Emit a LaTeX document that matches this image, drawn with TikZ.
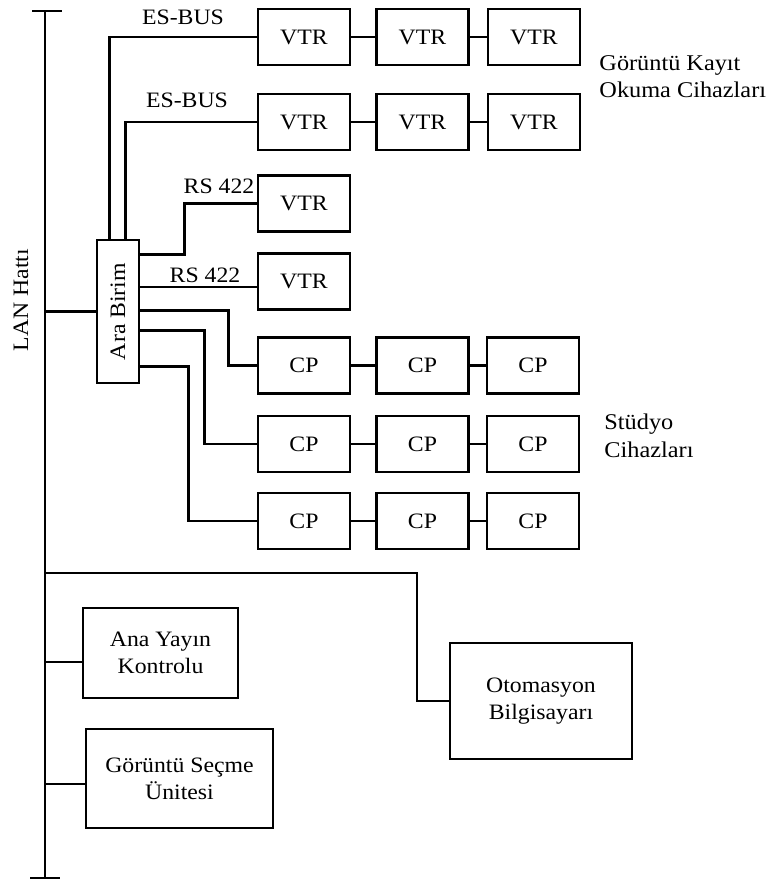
\documentclass[tikz,border=0pt]{standalone}
\usepackage{fontspec}
\setmainfont{Liberation Serif}[FakeStretch=1.08]
\begin{document}
\begin{tikzpicture}[x=1pt,y=-1pt,
  line width=2.9pt,
  lbl/.style={font=\fontsize{22}{26}\selectfont, inner sep=0pt},
  box/.style={draw, line width=2.9pt, inner sep=0pt, align=center, font=\fontsize{22}{27}\selectfont},
  dev/.style={box, minimum width=92pt, minimum height=56pt},
]
\useasboundingbox (0,0) rectangle (779,881);
% LAN line
\coordinate (lantop) at (45,11);
\coordinate (lanbot) at (45,878);
\coordinate (captl) at (32,11);
\coordinate (captr) at (62,11);
\coordinate (capbl) at (30,878);
\coordinate (capbr) at (60,878);
\draw (lantop) -- (lanbot);
\draw (captl) -- (captr);
\draw (capbl) -- (capbr);
\node[lbl, rotate=90] (lan) at (21,300) {LAN Hattı};

% Ara Birim
\node[box, minimum width=42pt, minimum height=143pt] (ara) at (118,311.5) {};
\node[lbl, rotate=90] (aratxt) at (ara.center) {Ara Birim};

% VTR rows
\node[dev] (v11) at (304,37) {VTR};
\node[dev] (v12) at (422.5,37) {VTR};
\node[dev] (v13) at (534,37) {VTR};
\node[dev] (v21) at (304,122) {VTR};
\node[dev] (v22) at (422.5,122) {VTR};
\node[dev] (v23) at (534,122) {VTR};
\node[dev] (v31) at (304,203.5) {VTR};
\node[dev] (v41) at (304,281.5) {VTR};

% CP rows
\node[dev] (c11) at (304,365.5) {CP};
\node[dev] (c12) at (422.5,365.5) {CP};
\node[dev] (c13) at (533,365.5) {CP};
\node[dev] (c21) at (304,444) {CP};
\node[dev] (c22) at (422.5,444) {CP};
\node[dev] (c23) at (533,444) {CP};
\node[dev] (c31) at (304,521) {CP};
\node[dev] (c32) at (422.5,521) {CP};
\node[dev] (c33) at (533,521) {CP};

% chains
\draw (v11.east) -- (v12.west);
\draw (v12.east) -- (v13.west);
\draw (v21.east) -- (v22.west);
\draw (v22.east) -- (v23.west);
\draw (c11.east) -- (c12.west);
\draw (c12.east) -- (c13.west);
\draw (c21.east) -- (c22.west);
\draw (c22.east) -- (c23.west);
\draw (c31.east) -- (c32.west);
\draw (c32.east) -- (c33.west);

% Ara Birim connections
\draw (ara.west) -- (ara.west -| lantop);
\draw ([xshift=14pt]ara.north west) |- (v11.west);
\draw ([xshift=30pt]ara.north west) |- (v21.west);
\draw ([yshift=-16pt]ara.north east) -- ++(44,0) |- (v31.west);
\draw ([yshift=-5.5pt]v41.west) -- ([yshift=-5.5pt]v41.west -| ara.east);
\draw ([yshift=-72pt]ara.north east) -- ++(88,0) |- (c11.west);
\draw ([yshift=-92pt]ara.north east) -- ++(64,0) |- (c21.west);
\draw ([yshift=-128pt]ara.north east) -- ++(48,0) |- (c31.west);

% labels
\node[lbl] (es1) at (183,17) {ES-BUS};
\node[lbl] (es2) at (187,100) {ES-BUS};
\node[lbl] (rs1) at (219,186) {RS 422};
\node[lbl] (rs2) at (205,275) {RS 422};
\node[lbl, anchor=west, align=left, font=\fontsize{22.5}{27}\selectfont] (gk) at (598,76.5) {Görüntü Kayıt\\Okuma Cihazları};
\node[lbl, anchor=west, align=left, font=\fontsize{22.5}{28}\selectfont] (sc) at (603,436) {Stüdyo\\Cihazları};

% bottom part
\node[box, minimum width=155pt, minimum height=90pt] (ana) at (160.5,653) {Ana Yayın\\Kontrolu};
\node[box, minimum width=187pt, minimum height=99pt] (gs) at (179.5,778.5) {Görüntü Seçme\\Ünitesi};
\node[box, minimum width=182pt, minimum height=116pt] (oto) at (541,701) {Otomasyon\\Bilgisayarı};
\coordinate (br) at (45,573);
\coordinate (bc) at (417,573);
\draw (br) -- (bc) |- (oto.west);
\draw ([yshift=-9pt]ana.west) -- ([yshift=-9pt]ana.west -| lantop);
\draw ([yshift=-5.5pt]gs.west) -- ([yshift=-5.5pt]gs.west -| lantop);
\end{tikzpicture}
\end{document}
